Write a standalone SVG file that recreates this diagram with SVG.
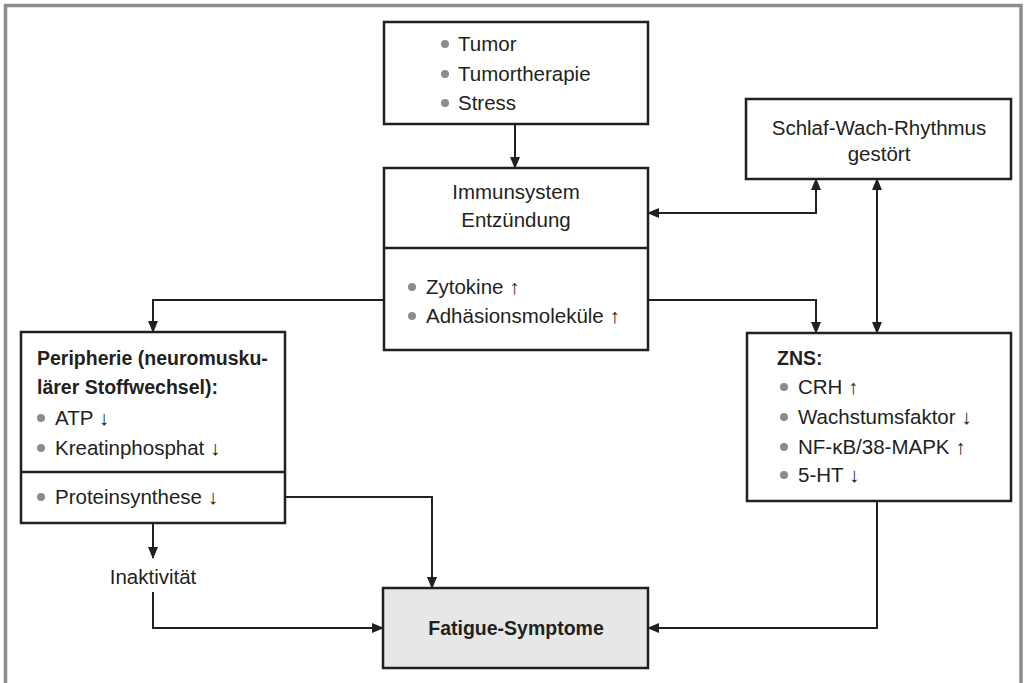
<svg xmlns="http://www.w3.org/2000/svg" width="1025" height="683" viewBox="0 0 1025 683">
<style>
.box{fill:#fff;stroke:#231f20;stroke-width:2.5}
.fat{fill:#e6e7e7;stroke:#231f20;stroke-width:2.5}
.div{stroke:#231f20;stroke-width:2.5}
.t{font-family:"Liberation Sans","DejaVu Sans",sans-serif;font-size:20.5px;fill:#231f20}
.b{font-weight:bold;font-size:19.5px}
.c{text-anchor:middle}
.bul{fill:#8c8c8c}
.con{fill:none;stroke:#231f20;stroke-width:2}
</style>
<defs>
<marker id="ah" markerUnits="userSpaceOnUse" markerWidth="12" markerHeight="10" refX="11" refY="5" orient="auto-start-reverse" viewBox="0 0 12 10">
<path d="M0,0 L12,5 L0,10 Z" fill="#231f20"/>
</marker>
</defs>
<path d="M5.5,683 V5.5 H1021 V683" fill="none" stroke="#8c8c8c" stroke-width="3.5"/>
<g id="connectors">
<path class="con" d="M515,124 V168" marker-end="url(#ah)"/>
<path class="con" d="M384,300 H153 V332" marker-end="url(#ah)"/>
<path class="con" d="M648,300 H816 V333" marker-end="url(#ah)"/>
<path class="con" d="M816,179 V213 H648" marker-start="url(#ah)" marker-end="url(#ah)"/>
<path class="con" d="M877,179 V333" marker-start="url(#ah)" marker-end="url(#ah)"/>
<path class="con" d="M153,523 V558" marker-end="url(#ah)"/>
<path class="con" d="M153,592 V628 H383" marker-end="url(#ah)"/>
<path class="con" d="M285,497 H432 V588" marker-end="url(#ah)"/>
<path class="con" d="M877,501 V628 H648" marker-end="url(#ah)"/>
</g>
<g id="ursachen">
<rect class="box" x="384" y="22" width="264" height="102"/>
<circle class="bul" cx="445" cy="44" r="4"/>
<circle class="bul" cx="445" cy="74" r="4"/>
<circle class="bul" cx="445" cy="103" r="4"/>
<text class="t" x="458" y="51">Tumor</text>
<text class="t" x="458" y="81">Tumortherapie</text>
<text class="t" x="458" y="110">Stress</text>
</g>
<g id="immunsystem">
<rect class="box" x="384" y="168" width="264" height="182"/>
<line class="div" x1="384" y1="248" x2="648" y2="248"/>
<text class="t c" x="516" y="199">Immunsystem</text>
<text class="t c" x="516" y="227">Entzündung</text>
<circle class="bul" cx="412" cy="287" r="4"/>
<circle class="bul" cx="412" cy="316" r="4"/>
<text class="t" x="426" y="294">Zytokine ↑</text>
<text class="t" x="426" y="323">Adhäsionsmoleküle ↑</text>
</g>
<g id="schlaf">
<rect class="box" x="746" y="99" width="265" height="80"/>
<text class="t c" x="879" y="135">Schlaf-Wach-Rhythmus</text>
<text class="t c" x="879" y="161">gestört</text>
</g>
<g id="peripherie">
<rect class="box" x="21" y="332" width="264" height="191"/>
<line class="div" x1="21" y1="472" x2="285" y2="472"/>
<text class="t b" x="37" y="365">Peripherie (neuromusku-</text>
<text class="t b" x="37" y="394">lärer Stoffwechsel):</text>
<circle class="bul" cx="41" cy="418" r="4"/>
<circle class="bul" cx="41" cy="448" r="4"/>
<circle class="bul" cx="41" cy="497" r="4"/>
<text class="t" x="55" y="425">ATP ↓</text>
<text class="t" x="55" y="455">Kreatinphosphat ↓</text>
<text class="t" x="55" y="504">Proteinsynthese ↓</text>
</g>
<g id="inaktivitaet">
<text class="t c" x="153" y="584">Inaktivität</text>
</g>
<g id="zns">
<rect class="box" x="747" y="333" width="264" height="168"/>
<text class="t b" x="777" y="365">ZNS:</text>
<circle class="bul" cx="784" cy="387" r="4"/>
<circle class="bul" cx="784" cy="417" r="4"/>
<circle class="bul" cx="784" cy="447" r="4"/>
<circle class="bul" cx="784" cy="475" r="4"/>
<text class="t" x="798" y="394">CRH ↑</text>
<text class="t" x="798" y="424">Wachstumsfaktor ↓</text>
<text class="t" x="798" y="454">NF-κB/38-MAPK ↑</text>
<text class="t" x="798" y="482">5-HT ↓</text>
</g>
<g id="fatigue">
<rect class="fat" x="383" y="588" width="265" height="80"/>
<text class="t b c" x="516" y="635">Fatigue-Symptome</text>
</g>
</svg>
